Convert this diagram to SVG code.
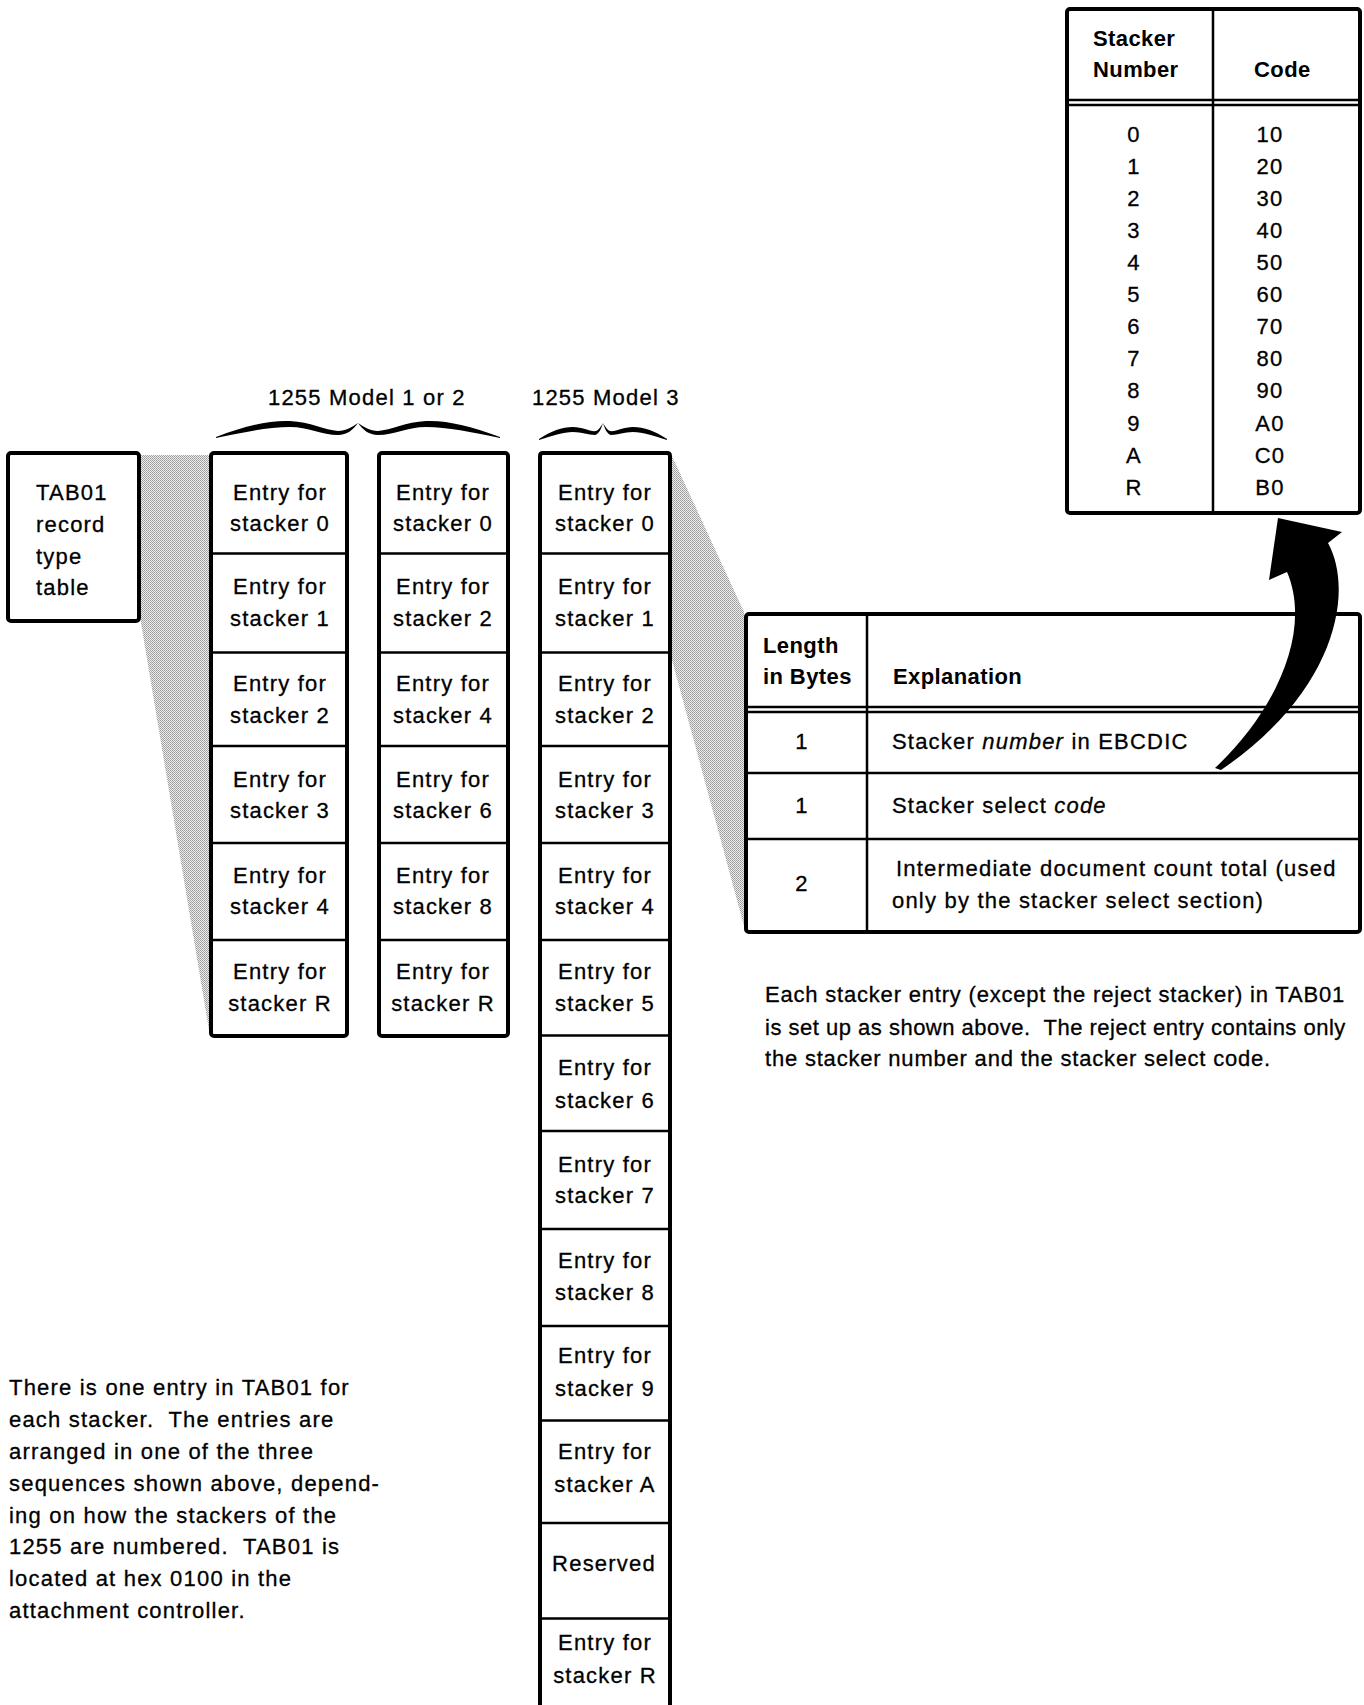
<svg xmlns="http://www.w3.org/2000/svg" width="1364" height="1705" viewBox="0 0 1364 1705">
  <defs>
    <!-- halftone used for the projection wedges -->
    <pattern id="halftone" width="2" height="2" patternUnits="userSpaceOnUse">
      <rect width="2" height="2" fill="#ececec"/>
      <rect width="1" height="1" fill="#9c9c9c"/>
      <rect x="1" y="1" width="1" height="1" fill="#a8a8a8"/>
    </pattern>
    <style>
      .t { font-family: "Liberation Sans", Arial, sans-serif; font-size: 22px; letter-spacing: 1.2px; fill: #000; stroke: #000; stroke-width: 0.3px; }
      .c { text-anchor: middle; }
      .b { font-weight: bold; font-size: 22px; letter-spacing: 0.4px; stroke-width: 0; }
      .box { fill: #fff; stroke: #000; stroke-width: 4; }
      .rule { stroke: #000; stroke-width: 2.5; fill: none; }
      .edge { stroke: #000; stroke-width: 4; fill: none; stroke-linecap: square; }
      .shade { fill: url(#halftone); stroke: none; }
      .ink { fill: #000; stroke: none; }
    </style>
  </defs>
  <rect width="1364" height="1705" fill="#fff"/>

  <!-- group labels with braces -->
  <g id="label-model12">
    <text class="t" x="268" y="405">1255 Model 1 or 2</text>
    <path class="ink" d="M216,437 C245,426 270,420 290,421 C310,422 325,430 338,431 C346,431 352,427 358,423 C353,430 347,435 338,435 C322,435 308,427 290,427 C268,427 245,432 216,438 Z"/>
    <path class="ink" d="M500,437 C471,426 446,420 426,421 C406,422 391,430 378,431 C370,431 364,427 358,423 C363,430 369,435 378,435 C394,435 408,427 426,427 C448,427 471,432 500,438 Z"/>
  </g>
  <g id="label-model3">
    <text class="t" x="532" y="405">1255 Model 3</text>
    <path class="ink" d="M539,439 C551,431 562,427 573,427 C583,427 590,432 596,431 C599,430 601,426 603,423 C601,429 599,434 595,435 C588,435 582,432 573,432 C563,432 552,436 539,440 Z"/>
    <path class="ink" d="M667,439 C655,431 644,427 633,427 C623,427 616,432 610,431 C607,430 605,426 603,423 C605,429 607,434 611,435 C618,435 624,432 633,432 C643,432 654,436 667,440 Z"/>
  </g>

  <!-- TAB01 box -->
  <g id="tab01">
    <rect class="box" x="8" y="453" width="131" height="168" rx="3"/>
    <text class="t" x="36" y="500">TAB01</text>
    <text class="t" x="36" y="532">record</text>
    <text class="t" x="36" y="564">type</text>
    <text class="t" x="36" y="595">table</text>
  </g>

  <!-- sequence for Model 1 or 2, first numbering -->
  <g id="seq-a">
    <rect class="box" x="211" y="453" width="136" height="583" rx="3"/>
    <path class="rule" d="M211,553.5 H347 M211,652.5 H347 M211,746 H347 M211,843 H347 M211,940 H347"/>
    <text class="t c" x="280" y="500">Entry for</text><text class="t c" x="280" y="531">stacker 0</text>
    <text class="t c" x="280" y="594">Entry for</text><text class="t c" x="280" y="626">stacker 1</text>
    <text class="t c" x="280" y="691">Entry for</text><text class="t c" x="280" y="723">stacker 2</text>
    <text class="t c" x="280" y="787">Entry for</text><text class="t c" x="280" y="818">stacker 3</text>
    <text class="t c" x="280" y="883">Entry for</text><text class="t c" x="280" y="914">stacker 4</text>
    <text class="t c" x="280" y="979">Entry for</text><text class="t c" x="280" y="1011">stacker R</text>
  </g>

  <!-- sequence for Model 1 or 2, second numbering -->
  <g id="seq-b">
    <rect class="box" x="379" y="453" width="129" height="583" rx="3"/>
    <path class="rule" d="M379,553.5 H508 M379,652.5 H508 M379,746 H508 M379,843 H508 M379,940 H508"/>
    <text class="t c" x="443" y="500">Entry for</text><text class="t c" x="443" y="531">stacker 0</text>
    <text class="t c" x="443" y="594">Entry for</text><text class="t c" x="443" y="626">stacker 2</text>
    <text class="t c" x="443" y="691">Entry for</text><text class="t c" x="443" y="723">stacker 4</text>
    <text class="t c" x="443" y="787">Entry for</text><text class="t c" x="443" y="818">stacker 6</text>
    <text class="t c" x="443" y="883">Entry for</text><text class="t c" x="443" y="914">stacker 8</text>
    <text class="t c" x="443" y="979">Entry for</text><text class="t c" x="443" y="1011">stacker R</text>
  </g>

  <!-- sequence for Model 3 (runs off the bottom) -->
  <g id="seq-c">
    <rect x="540" y="453" width="130" height="1260" fill="#fff"/>
    <path class="edge" d="M540,1710 V456 Q540,453 543,453 H667 Q670,453 670,456 V1710"/>
    <path class="rule" d="M540,553.5 H670 M540,652.5 H670 M540,746 H670 M540,843 H670 M540,940 H670 M540,1035.5 H670 M540,1131 H670 M540,1229 H670 M540,1326 H670 M540,1420.5 H670 M540,1523 H670 M540,1618.5 H670"/>
    <text class="t c" x="605" y="500">Entry for</text><text class="t c" x="605" y="531">stacker 0</text>
    <text class="t c" x="605" y="594">Entry for</text><text class="t c" x="605" y="626">stacker 1</text>
    <text class="t c" x="605" y="691">Entry for</text><text class="t c" x="605" y="723">stacker 2</text>
    <text class="t c" x="605" y="787">Entry for</text><text class="t c" x="605" y="818">stacker 3</text>
    <text class="t c" x="605" y="883">Entry for</text><text class="t c" x="605" y="914">stacker 4</text>
    <text class="t c" x="605" y="979">Entry for</text><text class="t c" x="605" y="1011">stacker 5</text>
    <text class="t c" x="605" y="1075">Entry for</text><text class="t c" x="605" y="1108">stacker 6</text>
    <text class="t c" x="605" y="1172">Entry for</text><text class="t c" x="605" y="1203">stacker 7</text>
    <text class="t c" x="605" y="1268">Entry for</text><text class="t c" x="605" y="1300">stacker 8</text>
    <text class="t c" x="605" y="1363">Entry for</text><text class="t c" x="605" y="1396">stacker 9</text>
    <text class="t c" x="605" y="1459">Entry for</text><text class="t c" x="605" y="1492">stacker A</text>
    <text class="t c" x="604" y="1571">Reserved</text>
    <text class="t c" x="605" y="1650">Entry for</text><text class="t c" x="605" y="1683">stacker R</text>
  </g>

  <!-- stacker number to select code table -->
  <g id="code-table">
    <rect class="box" x="1067" y="9" width="293" height="504" rx="3"/>
    <path class="rule" d="M1213,9 V513 M1067,100 H1360 M1067,105 H1360"/>
    <text class="t b" x="1093" y="46">Stacker</text>
    <text class="t b" x="1093" y="77">Number</text>
    <text class="t b" x="1254" y="77">Code</text>
    <g class="t c">
      <text x="1134" y="142">0</text><text x="1270" y="142">10</text>
      <text x="1134" y="174">1</text><text x="1270" y="174">20</text>
      <text x="1134" y="206">2</text><text x="1270" y="206">30</text>
      <text x="1134" y="238">3</text><text x="1270" y="238">40</text>
      <text x="1134" y="270">4</text><text x="1270" y="270">50</text>
      <text x="1134" y="302">5</text><text x="1270" y="302">60</text>
      <text x="1134" y="334">6</text><text x="1270" y="334">70</text>
      <text x="1134" y="366">7</text><text x="1270" y="366">80</text>
      <text x="1134" y="398">8</text><text x="1270" y="398">90</text>
      <text x="1134" y="431">9</text><text x="1270" y="431">A0</text>
      <text x="1134" y="463">A</text><text x="1270" y="463">C0</text>
      <text x="1134" y="495">R</text><text x="1270" y="495">B0</text>
    </g>
  </g>

  <!-- layout of one stacker entry -->
  <g id="entry-layout">
    <rect class="box" x="746" y="614" width="614" height="318" rx="3"/>
    <path class="rule" d="M867,614 V932 M746,707 H1360 M746,712 H1360 M746,773 H1360 M746,839 H1360"/>
    <text class="t b" x="763" y="653">Length</text>
    <text class="t b" x="763" y="684">in Bytes</text>
    <text class="t b" x="893" y="684">Explanation</text>
    <text class="t c" x="802" y="749">1</text>
    <text class="t" x="892" y="749">Stacker <tspan font-style="italic">number</tspan> in EBCDIC</text>
    <text class="t c" x="802" y="813">1</text>
    <text class="t" x="892" y="813">Stacker select <tspan font-style="italic">code</tspan></text>
    <text class="t c" x="802" y="891">2</text>
    <text class="t" x="896" y="876">Intermediate document count total (used</text>
    <text class="t" x="892" y="908">only by the stacker select section)</text>
  </g>

  <!-- explanatory notes -->
  <g id="note-entry">
    <text class="t" x="765" y="1002" style="letter-spacing:0.8px">Each stacker entry (except the reject stacker) in TAB01</text>
    <text class="t" x="765" y="1035" style="letter-spacing:0.5px" xml:space="preserve">is set up as shown above.  The reject entry contains only</text>
    <text class="t" x="765" y="1066" style="letter-spacing:0.8px">the stacker number and the stacker select code.</text>
  </g>
  <g id="note-sequence">
    <text class="t" x="9" y="1395">There is one entry in TAB01 for</text>
    <text class="t" x="9" y="1427" xml:space="preserve">each stacker.  The entries are</text>
    <text class="t" x="9" y="1459">arranged in one of the three</text>
    <text class="t" x="9" y="1491">sequences shown above, depend-</text>
    <text class="t" x="9" y="1523">ing on how the stackers of the</text>
    <text class="t" x="9" y="1554" xml:space="preserve">1255 are numbered.  TAB01 is</text>
    <text class="t" x="9" y="1586">located at hex 0100 in the</text>
    <text class="t" x="9" y="1618">attachment controller.</text>
  </g>

  <!-- projection wedges and the curved pointer, drawn over the boxes -->
  <g id="connectors">
    <polygon class="shade" points="141,455 209,455 209,1030 141,623"/>
    <polygon class="shade" points="672,456 744,612 744,926 672,660"/>
    <path class="ink" d="M1278,518 L1342,532 L1328,543 C1354,590 1338,690 1221,770 L1215,768 C1277,710 1312,630 1287,572 L1269,580 Z"/>
  </g>
</svg>
